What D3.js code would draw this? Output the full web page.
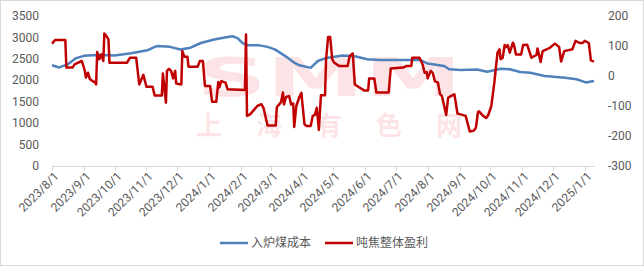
<!DOCTYPE html>
<html><head><meta charset="utf-8">
<script src="https://cdn.jsdelivr.net/npm/d3@7"></script>
<style>body{margin:0;background:#fff}svg{display:block;font-family:Roboto,"Noto Sans CJK SC",sans-serif}</style>
</head><body><svg id="c" width="644" height="266"></svg>
<script>
const seriesNames = ["入炉煤成本", "吨焦整体盈利"];
const costDates = ["2023-08-01","2023-08-08","2023-08-16","2023-08-24","2023-09-01","2023-09-14","2023-10-01","2023-10-17","2023-11-02","2023-11-09","2023-11-12","2023-11-24","2023-12-04","2023-12-14","2023-12-24","2024-01-06","2024-01-19","2024-01-24","2024-01-29","2024-02-03","2024-02-08","2024-02-18","2024-02-27","2024-03-05","2024-03-15","2024-03-24","2024-03-29","2024-04-09","2024-04-16","2024-04-23","2024-05-10","2024-05-22","2024-06-03","2024-06-15","2024-07-25","2024-08-01","2024-08-17","2024-08-22","2024-09-02","2024-09-18","2024-09-28","2024-10-11","2024-10-20","2024-10-30","2024-11-09","2024-11-23","2024-12-13","2024-12-24","2025-01-02","2025-01-10"];
const costValues = [2350,2300,2370,2510,2570,2590,2580,2630,2700,2780,2800,2780,2720,2760,2870,2950,3010,3030,2980,2860,2820,2820,2780,2720,2570,2410,2350,2290,2450,2513,2580,2560,2490,2473,2473,2390,2333,2256,2240,2250,2200,2270,2256,2193,2177,2100,2060,2023,1950,1983];
const profitDates = ["2023-08-01","2023-08-04","2023-08-14","2023-08-15","2023-08-21","2023-08-23","2023-08-30","2023-08-31","2023-09-02","2023-09-03","2023-09-05","2023-09-07","2023-09-12","2023-09-13","2023-09-14","2023-09-16","2023-09-18","2023-09-20","2023-09-21","2023-09-23","2023-09-25","2023-09-26","2023-10-13","2023-10-16","2023-10-22","2023-10-25","2023-10-29","2023-11-01","2023-11-07","2023-11-09","2023-11-16","2023-11-17","2023-11-20","2023-11-21","2023-11-23","2023-11-25","2023-11-27","2023-11-29","2023-11-30","2023-12-05","2023-12-06","2023-12-08","2023-12-11","2023-12-12","2023-12-21","2023-12-23","2023-12-26","2023-12-28","2024-01-02","2024-01-04","2024-01-08","2024-01-10","2024-01-11","2024-01-13","2024-01-17","2024-01-19","2024-02-05","2024-02-06","2024-02-07","2024-02-10","2024-02-17","2024-02-21","2024-02-23","2024-02-27","2024-03-06","2024-03-07","2024-03-11","2024-03-13","2024-03-14","2024-03-16","2024-03-19","2024-03-21","2024-03-23","2024-03-24","2024-03-26","2024-03-29","2024-03-31","2024-04-01","2024-04-03","2024-04-05","2024-04-09","2024-04-11","2024-04-13","2024-04-15","2024-04-17","2024-04-19","2024-04-23","2024-04-24","2024-04-26","2024-04-28","2024-04-30","2024-05-02","2024-05-07","2024-05-15","2024-05-17","2024-05-20","2024-05-22","2024-05-25","2024-05-31","2024-06-04","2024-06-05","2024-06-10","2024-06-12","2024-06-24","2024-06-26","2024-07-08","2024-07-11","2024-07-16","2024-07-17","2024-07-24","2024-07-27","2024-07-29","2024-07-31","2024-08-01","2024-08-04","2024-08-06","2024-08-08","2024-08-11","2024-08-13","2024-08-15","2024-08-19","2024-08-21","2024-08-24","2024-08-27","2024-08-30","2024-09-02","2024-09-07","2024-09-11","2024-09-15","2024-09-17","2024-09-19","2024-09-20","2024-09-24","2024-09-27","2024-09-29","2024-10-02","2024-10-05","2024-10-08","2024-10-10","2024-10-11","2024-10-13","2024-10-15","2024-10-16","2024-10-18","2024-10-20","2024-10-23","2024-10-24","2024-10-26","2024-10-31","2024-11-02","2024-11-06","2024-11-10","2024-11-15","2024-11-16","2024-11-19","2024-11-21","2024-11-28","2024-12-03","2024-12-07","2024-12-09","2024-12-12","2024-12-20","2024-12-23","2024-12-27","2024-12-30","2025-01-01","2025-01-05","2025-01-07","2025-01-10"];
const profitValues = [108,120,120,28,28,39,50,40,17,-5,11,-11,-22,-28,80,56,72,50,142,133,122,44,44,61,61,-28,4,-36,-36,-65,-65,8,-89,17,24,17,-8,17,-25,-28,83,64,64,31,31,50,50,-33,-33,-86,-86,-20,-38,-17,-22,-44,-47,138,-133,-128,-100,-94,-106,-165,-165,-104,-88,-55,-95,-70,-67,-95,-92,-170,-100,-70,-56,-94,-161,-167,-167,-133,-130,-106,-180,-64,-64,55,130,130,56,44,33,33,67,75,-28,-35,-48,-48,-8,-8,-55,-55,25,28,33,33,61,61,39,11,13,-8,17,10,-17,-22,-60,-68,-130,-72,-66,-61,-125,-128,-133,-185,-182,-172,-120,-118,-133,-140,-130,-100,-20,78,89,56,60,103,96,103,78,111,105,72,72,103,104,61,70,92,47,83,94,108,97,48,83,89,117,110,110,117,110,52,48];
const leftTicks = [0,500,1000,1500,2000,2500,3000,3500];
const rightTicks = [-300,-200,-100,0,100,200];
const tickLabels = ["2023/8/1","2023/9/1","2023/10/1","2023/11/1","2023/12/1","2024/1/1","2024/2/1","2024/3/1","2024/4/1","2024/5/1","2024/6/1","2024/7/1","2024/8/1","2024/9/1","2024/10/1","2024/11/1","2024/12/1","2025/1/1"];

const parse = d3.timeParse("%Y-%m-%d");
const parseTick = d3.timeParse("%Y/%m/%d");
const svg = d3.select("#c");
svg.append("rect").attr("x",0.5).attr("y",0.5).attr("width",643).attr("height",265).attr("fill","#fff").attr("stroke","#d9d9d9");

const x = d3.scaleTime().domain([parse("2023-08-01"), parse("2025-01-11")]).range([52, 595]);
const yL = d3.scaleLinear().domain([0,3500]).range([166,16]);
const yR = d3.scaleLinear().domain([-300,200]).range([166,16]);

// watermark
const wm = svg.append("g").attr("fill","#e60012").attr("opacity",0.1);
wm.append("text").attr("x",196).attr("y",96).attr("font-size",54).attr("font-weight",900)
  .attr("font-family","DejaVu Sans,sans-serif").attr("textLength",266).attr("lengthAdjust","spacingAndGlyphs").text("SMM");
wm.append("text").attr("x",196).attr("y",135).attr("font-size",26).attr("font-weight",700)
  .attr("font-family","Noto Sans CJK SC").attr("textLength",266).attr("lengthAdjust","spacing").text("上海有色网");

// x axis
const tickDates = tickLabels.map(parseTick);
svg.append("line").attr("x1",52).attr("x2",595).attr("y1",166.5).attr("y2",166.5).attr("stroke","#d9d9d9");
const xg = svg.append("g");
tickDates.forEach((d,i)=>{
  const px = Math.round(x(d))+0.5;
  xg.append("line").attr("x1",px).attr("x2",px).attr("y1",166.5).attr("y2",171).attr("stroke","#d9d9d9");
  xg.append("text").attr("transform",`translate(${px+4},${174}) rotate(-45)`).attr("text-anchor","end").attr("dy","0.35em")
    .attr("font-size",12).attr("fill","#595959").text(tickLabels[i]);
});

// left axis
svg.append("g").selectAll("text").data(leftTicks).join("text")
  .attr("x",39).attr("y",d=>yL(d)).attr("dy","0.35em").attr("text-anchor","end").attr("font-size",12).attr("fill","#595959").text(d=>d);
// right axis
svg.append("g").selectAll("text").data(rightTicks).join("text")
  .attr("x",608).attr("y",d=>yR(d)).attr("dy","0.35em").attr("text-anchor","start").attr("font-size",12).attr("fill","#595959").text(d=>d);

const cost = costDates.map((d,i)=>({d:parse(d),v:costValues[i]}));
const profit = profitDates.map((d,i)=>({d:parse(d),v:profitValues[i]}));
svg.append("path").datum(cost).attr("fill","none").attr("stroke","#4f81bd").attr("stroke-width",2.5).attr("stroke-linejoin","round")
  .attr("d", d3.line().x(p=>x(p.d)).y(p=>yL(p.v)));
svg.append("path").datum(profit).attr("fill","none").attr("stroke","#c00000").attr("stroke-width",2.5).attr("stroke-linejoin","round")
  .attr("d", d3.line().x(p=>x(p.d)).y(p=>yR(p.v)));

// legend
const lg = svg.append("g");
lg.append("line").attr("x1",220).attr("x2",248).attr("y1",243).attr("y2",243).attr("stroke","#4f81bd").attr("stroke-width",2.5);
lg.append("text").attr("x",251).attr("y",243).attr("dy","0.35em").attr("font-size",12).attr("fill","#595959").text(seriesNames[0]);
lg.append("line").attr("x1",325).attr("x2",353).attr("y1",243).attr("y2",243).attr("stroke","#c00000").attr("stroke-width",2.5);
lg.append("text").attr("x",356).attr("y",243).attr("dy","0.35em").attr("font-size",12).attr("fill","#595959").text(seriesNames[1]);
</script></body></html>
